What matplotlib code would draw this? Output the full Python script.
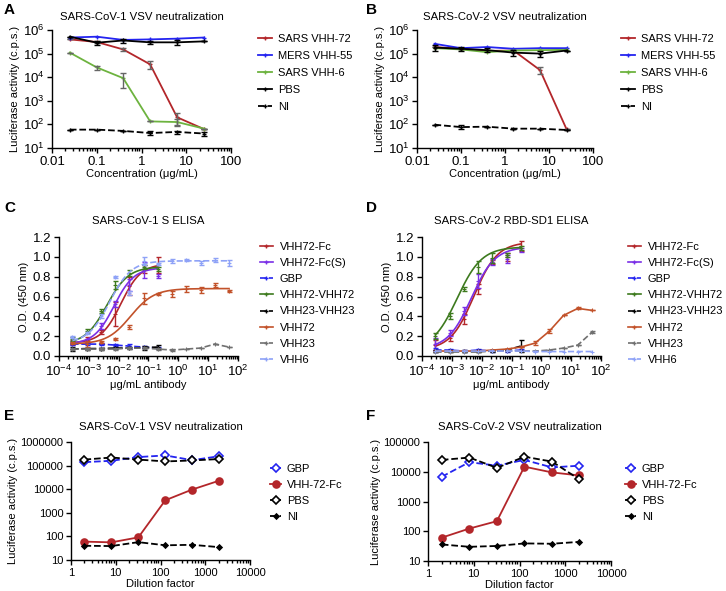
import numpy as np
import matplotlib
matplotlib.use('Agg')
import matplotlib.pyplot as plt
from matplotlib.lines import Line2D
from matplotlib.ticker import FuncFormatter, LogLocator, NullFormatter, MultipleLocator

plt.rcParams['font.family'] = ['Liberation Sans', 'DejaVu Sans']
plt.rcParams['font.size'] = 8
plt.rcParams['axes.linewidth'] = 1.0
plt.rcParams['xtick.major.size'] = 3.5
plt.rcParams['ytick.major.size'] = 3.5
plt.rcParams['xtick.minor.size'] = 2
plt.rcParams['ytick.minor.size'] = 2

# x values shared by the panels
CONC_VSV = [0.025, 0.1, 0.39, 1.56, 6.25, 25]
DILUTION = [2, 8, 32, 128, 512, 2048]
CONC_ELISA = [0.000282, 0.000847, 0.00254, 0.00762, 0.0229, 0.0686,
              0.206, 0.617, 1.85, 5.56, 16.7, 50]

# Panel A - SARS-CoV-1 VSV neutralization
A_VHH72 = [4.0e5, 3.1e5, 1.5e5, 3.5e4, 2.0e2, 63]
A_VHH72_ERR = [0, 3e4, 2.5e4, 1.2e4, 110, 0]
A_VHH55 = [4.8e5, 5.2e5, 3.8e5, 4.0e5, 4.3e5, 4.8e5]
A_VHH6 = [1.1e5, 2.6e4, 9.1e3, 134, 126, 66]
A_VHH6_ERR = [0, 5e3, 5.5e3, 0, 40, 0]
A_PBS = [5.2e5, 2.9e5, 3.6e5, 3.0e5, 3.0e5, 3.3e5]
A_PBS_ERR = [0, 5e4, 7e4, 5e4, 6e4, 0]
A_NI = [60, 60, 53, 43, 48, 41]
A_NI_ERR = [0, 0, 0, 9, 7, 8]

# Panel B - SARS-CoV-2 VSV neutralization
B_VHH72 = [1.9e5, 1.6e5, 1.3e5, 1.35e5, 2.0e4, 63]
B_VHH72_ERR = [0, 0, 0, 0, 6e3, 0]
B_VHH55 = [2.6e5, 1.7e5, 1.9e5, 1.6e5, 1.7e5, 1.7e5]
B_VHH6 = [1.7e5, 1.5e5, 1.15e5, 1.35e5, 1.4e5, 1.45e5]
B_PBS = [1.8e5, 1.6e5, 1.4e5, 1.1e5, 1.0e5, 1.35e5]
B_PBS_ERR = [5e4, 3e4, 2.5e4, 3e4, 3e4, 0]
B_NI = [97, 77, 80, 66, 66, 58]
B_NI_ERR = [0, 15, 0, 0, 0, 0]

# Panel C - SARS-CoV-1 S ELISA (O.D. 450 nm)
C_FC = [0.14, 0.16, 0.24, 0.42, 0.71, 0.88, 0.92]
C_FC_ERR = [0.02, 0.03, 0.02, 0.12, 0.09, 0.04, 0.08]
C_FCS = [0.13, 0.15, 0.30, 0.52, 0.72, 0.87, 0.81]
C_FCS_ERR = [0.02, 0.02, 0.03, 0.03, 0.06, 0.08, 0.02]
C_GBP = [0.12, 0.12, 0.12, 0.11, 0.10, 0.09, 0.08]
C_GBP_ERR = [0.01, 0.01, 0.01, 0.01, 0.02, 0.01, 0.01]
C_BIV = [0.17, 0.25, 0.45, 0.72, 0.84, 0.90, 0.88]
C_BIV_ERR = [0.02, 0.02, 0.02, 0.04, 0.03, 0.02, 0.02]
C_BIV23 = [0.07, 0.075, 0.075, 0.08, 0.08, 0.085, 0.09]
C_BIV23_ERR = [0.02, 0.01, 0.01, 0.01, 0.01, 0.02, 0.02]
C_VHH72 = [0.13, 0.12, 0.14, 0.17, 0.29, 0.58, 0.63, 0.63, 0.68, 0.67, 0.72, 0.66]
C_VHH72_ERR = [0.01, 0.03, 0.01, 0.01, 0.02, 0.06, 0.01, 0.03, 0.03, 0.03, 0.02, 0.01]
C_VHH23 = [0.07, 0.07, 0.07, 0.07, 0.08, 0.08, 0.07, 0.06, 0.07, 0.08, 0.12, 0.09]
C_VHH23_ERR = [0.01, 0.01, 0.01, 0.01, 0.01, 0.01, 0.01, 0.01, 0.0, 0.0, 0.0, 0.0]
C_VHH6 = [0.19, 0.23, 0.40, 0.80, 0.64, 0.96, 0.93, 0.96, 0.97, 0.94, 0.97, 0.94]
C_VHH6_ERR = [0.01, 0.01, 0.02, 0.01, 0.02, 0.04, 0.01, 0.02, 0.01, 0.02, 0.02, 0.03]

# Panel D - SARS-CoV-2 RBD-SD1 ELISA
D_FC = [0.11, 0.18, 0.37, 0.68, 0.95, 1.00, 1.11]
D_FC_ERR = [0.05, 0.03, 0.05, 0.05, 0.02, 0.04, 0.05]
D_FCS = [0.12, 0.23, 0.45, 0.76, 0.95, 0.98, 1.07]
D_FCS_ERR = [0.06, 0.03, 0.04, 0.07, 0.03, 0.04, 0.02]
D_GBP = [0.06, 0.06, 0.05, 0.06, 0.05, 0.05, 0.06]
D_GBP_ERR = [0.02, 0.01, 0.01, 0.01, 0.01, 0.01, 0.01]
D_BIV = [0.20, 0.40, 0.68, 0.90, 0.99, 1.02, 1.09]
D_BIV_ERR = [0.03, 0.03, 0.02, 0.06, 0.05, 0.02, 0.02]
D_BIV23 = [0.05, 0.05, 0.05, 0.05, 0.05, 0.06, 0.10]
D_BIV23_ERR = [0.01, 0.01, 0.01, 0.01, 0.01, 0.01, 0.06]
D_VHH72 = [0.05, 0.05, 0.05, 0.05, 0.06, 0.07, 0.09, 0.13, 0.25, 0.41, 0.48, 0.46]
D_VHH72_ERR = [0, 0, 0, 0, 0, 0, 0, 0.02, 0.02, 0, 0.01, 0]
D_VHH23 = [0.04, 0.04, 0.04, 0.04, 0.05, 0.05, 0.05, 0.05, 0.06, 0.08, 0.11, 0.24]
D_VHH23_ERR = [0, 0, 0, 0, 0, 0, 0, 0, 0, 0, 0, 0.01]
D_VHH6 = [0.05, 0.05, 0.05, 0.05, 0.05, 0.05, 0.05, 0.045, 0.045, 0.045, 0.045, 0.045]

# 4PL fits: bottom, top, EC50, hill
C_FC_FIT = [0.13, 0.93, 0.012, 1.3]
C_FCS_FIT = [0.12, 0.89, 0.007, 1.3]
C_BIV_FIT = [0.12, 0.90, 0.004, 1.2]
C_VHH72_FIT = [0.12, 0.68, 0.025, 1.1]
C_VHH6_FIT = [0.13, 0.96, 0.005, 1.2]
D_FC_FIT = [0.06, 1.15, 0.0055, 1.1]
D_FCS_FIT = [0.07, 1.10, 0.0045, 1.1]
D_BIV_FIT = [0.06, 1.10, 0.0015, 1.05]

# Panel E / F - VHH-72-Fc neutralization in dilution factor
E_GBP = [1.4e5, 1.6e5, 2.3e5, 2.7e5, 1.7e5, 2.5e5]
E_FC = [60, 56, 91, 3.4e3, 9.7e3, 2.3e4]
E_PBS = [1.8e5, 2.2e5, 1.8e5, 1.5e5, 1.65e5, 1.9e5]
E_NI = [40, 39, 57, 42, 44, 35]
F_GBP = [6.8e3, 2.1e4, 1.6e4, 2.5e4, 1.4e4, 1.6e4]
F_FC = [61, 123, 218, 1.48e4, 9.5e3, 7.5e3]
F_PBS = [2.5e4, 3.0e4, 1.35e4, 3.2e4, 2.2e4, 5.5e3]
F_NI = [36, 30, 32, 39, 38, 44]

RED = '#B3262A'
BLUE = '#2424F0'
GREEN = '#6DB33F'
PURPLE = '#7A2FE6'
DKGREEN = '#3D7A1E'
ORANGE = '#C2522A'
GREY = '#707070'
LTBLUE = '#8EA2F7'

W, H = 726, 591
fig = plt.figure(figsize=(W / 100, H / 100), dpi=100)


def box(l, t, r, b):
    # pixel box -> figure fraction
    return [l / W, 1 - b / H, (r - l) / W, (b - t) / H]


def fourpl(x, bottom, top, ec50, hill):
    return bottom + (top - bottom) / (1 + (ec50 / x) ** hill)


def style(ax, size):
    ax.spines['top'].set_visible(False)
    ax.spines['right'].set_visible(False)
    ax.tick_params(which='both', direction='out', width=1, labelsize=size, pad=2)


def log_x(ax, lo, hi, fmt):
    ax.set_xscale('log')
    ax.set_xlim(lo, hi)
    ax.xaxis.set_major_locator(LogLocator(base=10, numticks=12))
    ax.xaxis.set_minor_locator(LogLocator(base=10, subs=np.arange(2, 10), numticks=12))
    ax.xaxis.set_minor_formatter(NullFormatter())
    if fmt is not None:
        ax.xaxis.set_major_formatter(FuncFormatter(fmt))


def log_y(ax, lo, hi, fmt):
    ax.set_yscale('log')
    ax.set_ylim(lo, hi)
    ax.yaxis.set_major_locator(LogLocator(base=10, numticks=12))
    ax.yaxis.set_minor_locator(plt.NullLocator())
    if fmt is not None:
        ax.yaxis.set_major_formatter(FuncFormatter(fmt))


def plain(v, pos):
    return '%g' % v


def integer(v, pos):
    return '%d' % round(v)


def legend(ax, handles, labels, x, y, spacing, hlen, pad):
    ax.legend(handles, labels, loc='upper left', bbox_to_anchor=(x / W, 1 - y / H),
              bbox_transform=fig.transFigure, frameon=False, fontsize=8,
              borderpad=0, borderaxespad=0, labelspacing=spacing,
              handlelength=hlen, handletextpad=pad)


def vsv_panel(ax, series, title, lx):
    for y, err, color, ls, ecol, label in series:
        ax.plot(CONC_VSV, y, color=color, ls=ls, lw=1.3, marker='+', ms=3, mew=1)
        if err is not None:
            ax.errorbar(CONC_VSV, y, yerr=err, fmt='none', ecolor=ecol,
                        elinewidth=1, capsize=2, capthick=1)
    style(ax, 9.5)
    log_x(ax, 0.01, 100, plain)
    log_y(ax, 10, 1e6, None)
    ax.set_xlabel('Concentration (μg/mL)', labelpad=1)
    ax.set_ylabel('Luciferase activity (c.p.s.)', labelpad=2)
    ax.set_title(title, fontsize=8.2, pad=7)
    handles = [Line2D([], [], color=s[2], ls=s[3], lw=1.3, marker='+', ms=3) for s in series]
    legend(ax, handles, [s[5] for s in series], lx, 34, 0.62, 1.3, 0.5)


def elisa_panel(ax, series, title, lx):
    for x, y, err, fit, color, ls, label in series:
        if fit is not None:
            xs = np.logspace(np.log10(x[0]), np.log10(x[-1]), 200)
            ax.plot(xs, fourpl(xs, *fit), color=color, ls=ls, lw=1.2)
        else:
            ax.plot(x, y, color=color, ls=ls, lw=1.2)
        ax.plot(x, y, ls='none', marker='+', ms=2.5, mew=0.8, color=color)
        if err is not None:
            ax.errorbar(x, y, yerr=err, fmt='none', ecolor=color,
                        elinewidth=1, capsize=1.8, capthick=1)
    style(ax, 9.5)
    log_x(ax, 1e-4, 1e2, None)
    ax.set_ylim(0, 1.2)
    ax.yaxis.set_major_locator(MultipleLocator(0.2))
    ax.yaxis.set_major_formatter(FuncFormatter(lambda v, p: '%.1f' % v))
    ax.set_xlabel('μg/mL antibody', labelpad=1)
    ax.set_ylabel('O.D. (450 nm)', labelpad=3)
    ax.set_title(title, fontsize=8.2, pad=9)
    handles = [Line2D([], [], color=s[4], ls=s[5], lw=1.2, marker='+', ms=2.5) for s in series]
    legend(ax, handles, [s[6] for s in series], lx, 242, 0.55, 1.15, 0.65)


def dilution_panel(ax, series, title, lx, ylo, yhi):
    for y, color, ls, marker, ms, mfc, label in series:
        ax.plot(DILUTION, y, color=color, ls=ls, lw=1.3, marker=marker, ms=ms,
                mfc=mfc, mec=color, mew=1.2, label=label)
    style(ax, 8)
    log_x(ax, 1, 10000, integer)
    log_y(ax, ylo, yhi, integer)
    ax.set_xlabel('Dilution factor', labelpad=1)
    ax.set_ylabel('Luciferase activity (c.p.s.)', labelpad=2)
    ax.set_title(title, fontsize=8.2, pad=9)
    handles, labels = ax.get_legend_handles_labels()
    legend(ax, handles, labels, lx, 464, 0.53, 1.0, 0.5)


ax_a = fig.add_axes(box(52, 30, 231, 148))
ax_b = fig.add_axes(box(417, 30, 593, 148))
ax_c = fig.add_axes(box(59, 237, 238, 356))
ax_d = fig.add_axes(box(422, 237, 601, 356))
ax_e = fig.add_axes(box(71, 442, 250, 560))
ax_f = fig.add_axes(box(428, 442, 611, 561))

vsv_panel(ax_a, [
    (A_VHH72, A_VHH72_ERR, RED, '-', '#666666', 'SARS VHH-72'),
    (A_VHH55, None, BLUE, '-', BLUE, 'MERS VHH-55'),
    (A_VHH6, A_VHH6_ERR, GREEN, '-', '#666666', 'SARS VHH-6'),
    (A_PBS, A_PBS_ERR, 'black', '-', 'black', 'PBS'),
    (A_NI, A_NI_ERR, 'black', '--', 'black', 'NI'),
], 'SARS-CoV-1 VSV neutralization', 258)

vsv_panel(ax_b, [
    (B_VHH72, B_VHH72_ERR, RED, '-', '#666666', 'SARS VHH-72'),
    (B_VHH55, None, BLUE, '-', BLUE, 'MERS VHH-55'),
    (B_VHH6, None, GREEN, '-', GREEN, 'SARS VHH-6'),
    (B_PBS, B_PBS_ERR, 'black', '-', 'black', 'PBS'),
    (B_NI, B_NI_ERR, 'black', '--', 'black', 'NI'),
], 'SARS-CoV-2 VSV neutralization', 621)

FC_X = CONC_ELISA[:7]
elisa_panel(ax_c, [
    (FC_X, C_FC, C_FC_ERR, C_FC_FIT, RED, '-', 'VHH72-Fc'),
    (FC_X, C_FCS, C_FCS_ERR, C_FCS_FIT, PURPLE, '-', 'VHH72-Fc(S)'),
    (FC_X, C_GBP, C_GBP_ERR, None, BLUE, '--', 'GBP'),
    (FC_X, C_BIV, C_BIV_ERR, C_BIV_FIT, DKGREEN, '-', 'VHH72-VHH72'),
    (FC_X, C_BIV23, C_BIV23_ERR, None, 'black', '--', 'VHH23-VHH23'),
    (CONC_ELISA, C_VHH72, C_VHH72_ERR, C_VHH72_FIT, ORANGE, '-', 'VHH72'),
    (CONC_ELISA, C_VHH23, C_VHH23_ERR, None, GREY, '--', 'VHH23'),
    (CONC_ELISA, C_VHH6, C_VHH6_ERR, C_VHH6_FIT, LTBLUE, '--', 'VHH6'),
], 'SARS-CoV-1 S ELISA', 260)

elisa_panel(ax_d, [
    (FC_X, D_FC, D_FC_ERR, D_FC_FIT, RED, '-', 'VHH72-Fc'),
    (FC_X, D_FCS, D_FCS_ERR, D_FCS_FIT, PURPLE, '-', 'VHH72-Fc(S)'),
    (FC_X, D_GBP, D_GBP_ERR, None, BLUE, '--', 'GBP'),
    (FC_X, D_BIV, D_BIV_ERR, D_BIV_FIT, DKGREEN, '-', 'VHH72-VHH72'),
    (FC_X, D_BIV23, D_BIV23_ERR, None, 'black', '--', 'VHH23-VHH23'),
    (CONC_ELISA, D_VHH72, D_VHH72_ERR, None, ORANGE, '-', 'VHH72'),
    (CONC_ELISA, D_VHH23, D_VHH23_ERR, None, GREY, '--', 'VHH23'),
    (CONC_ELISA, D_VHH6, None, None, LTBLUE, '--', 'VHH6'),
], 'SARS-CoV-2 RBD-SD1 ELISA', 628)

dilution_panel(ax_e, [
    (E_GBP, BLUE, '--', 'D', 4.5, 'white', 'GBP'),
    (E_FC, RED, '-', 'o', 5, RED, 'VHH-72-Fc'),
    (E_PBS, 'black', '--', 'D', 4.5, 'white', 'PBS'),
    (E_NI, 'black', '--', 'D', 2.5, 'black', 'NI'),
], 'SARS-CoV-1 VSV neutralization', 270, 10, 1e6)

dilution_panel(ax_f, [
    (F_GBP, BLUE, '--', 'D', 4.5, 'white', 'GBP'),
    (F_FC, RED, '-', 'o', 5, RED, 'VHH-72-Fc'),
    (F_PBS, 'black', '--', 'D', 4.5, 'white', 'PBS'),
    (F_NI, 'black', '--', 'D', 2.5, 'black', 'NI'),
], 'SARS-CoV-2 VSV neutralization', 625, 10, 1e5)

# panel letters
for letter, x, y in [('A', 4, 10), ('B', 366, 10), ('C', 4, 208), ('D', 366, 208),
                     ('E', 4, 416), ('F', 366, 416)]:
    fig.text(x / W, 1 - y / H, letter, fontsize=11, fontweight='bold', va='center')

fig.savefig('out.png', dpi=100)
